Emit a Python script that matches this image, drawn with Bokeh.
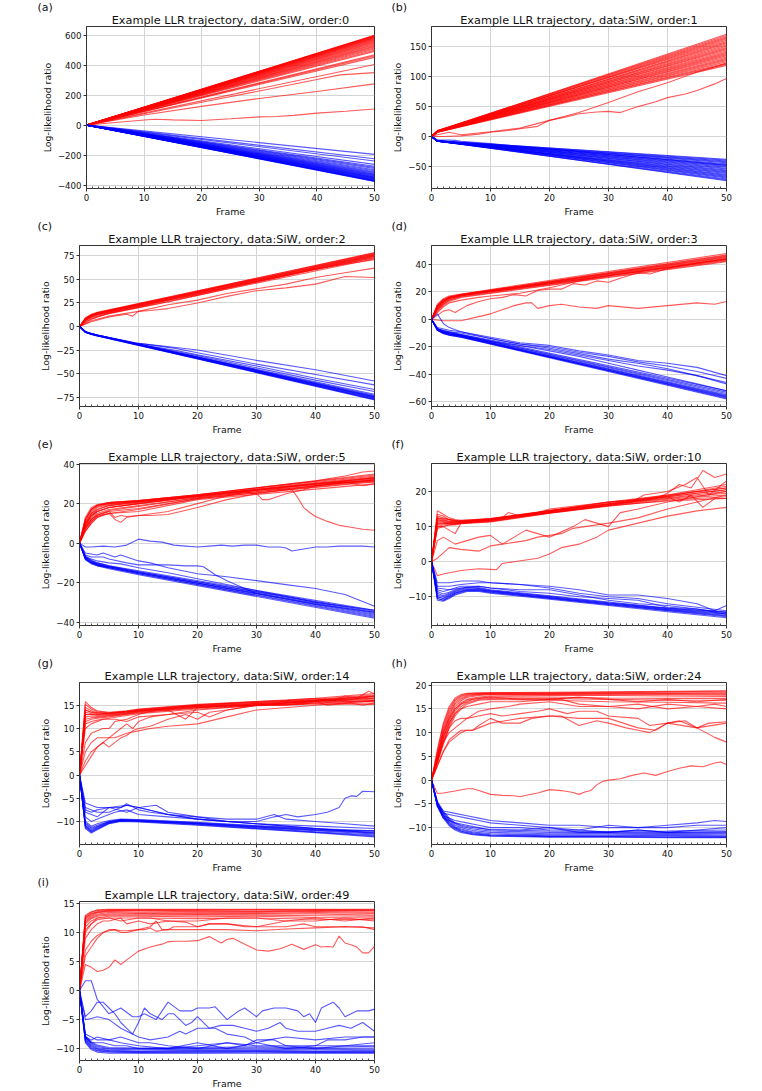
from bokeh.plotting import figure
from bokeh.layouts import column, row
from bokeh.models import FixedTicker, Range1d, Title
from bokeh.embed import file_html
from bokeh.resources import INLINE

FRAME_TICKS = [0, 10, 20, 30, 40, 50]
FRAME_MINOR = list(range(0, 51))
TAGS = ["(a)", "(b)", "(c)", "(d)", "(e)", "(f)", "(g)", "(h)", "(i)"]
ORDERS = [0, 1, 2, 3, 5, 10, 14, 24, 49]

# ---------------- (a) order 0
A_YTICKS = [-400, -200, 0, 200, 400, 600]
A_YRANGE = (-423, 658)
A_RED_FR = [0, 50]
A_RED = [[0, 600], [0, 598], [0, 596], [0, 594], [0, 591], [0, 588], [0, 585], [0, 582], [0, 578],
         [0, 574], [0, 570], [0, 566], [0, 561], [0, 556], [0, 551], [0, 546], [0, 540], [0, 534],
         [0, 528], [0, 522], [0, 515], [0, 508], [0, 500], [0, 492], [0, 470], [0, 462], [0, 452], [0, 405]]
A_RED_OUT = [
    ([0, 10, 20, 30, 40, 44, 50], [0, 76, 152, 228, 304, 335, 350]),
    ([0, 10, 20, 30, 40, 50], [0, 67, 125, 178, 224, 275]),
    ([0, 5, 10, 12, 15, 20, 25, 30, 33, 36, 40, 45, 50], [0, 17, 34, 39, 35, 31, 42, 55, 57, 65, 80, 92, 107]),
]
A_BLUE_FR = [0, 50]
A_BLUE = [[0, -376], [0, -374], [0, -372], [0, -370], [0, -367], [0, -364], [0, -361], [0, -358],
          [0, -355], [0, -352], [0, -349], [0, -346], [0, -342], [0, -338], [0, -334], [0, -330],
          [0, -326], [0, -321], [0, -316], [0, -311], [0, -305], [0, -298], [0, -290], [0, -282],
          [0, -275], [0, -262], [0, -240], [0, -224], [0, -195]]
A_BLUE_OUT = []

# ---------------- (b) order 1
B_YTICKS = [-50, 0, 50, 100, 150]
B_YRANGE = (-87, 184)
B_RED_FR = [0, 1, 50]
B_RED = [[0, 9, 171], [0, 9, 169], [0, 10, 167], [0, 9, 165], [0, 8, 163], [0, 9, 161], [0, 10, 159],
         [0, 8, 157], [0, 9, 155], [0, 9, 153], [0, 8, 151], [0, 9, 149], [0, 8, 147], [0, 9, 145],
         [0, 8, 143], [0, 9, 141], [0, 8, 139], [0, 8, 137], [0, 7, 135], [0, 9, 133], [0, 8, 131],
         [0, 8, 129], [0, 7, 127], [0, 8, 125], [0, 7, 123], [0, 8, 121], [0, 7, 119]]
B_RED_OUT = [
    ([0, 2, 5, 8, 10, 13, 15, 18, 20, 23, 25, 28, 30, 32, 35, 38, 40, 43, 45, 48, 50],
     [0, 0, 1, 4, 7, 10, 13, 17, 27, 33, 38, 41, 42, 40, 50, 58, 65, 71, 77, 88, 97]),
    ([0, 1, 3, 5, 10, 15, 20, 25, 30, 35, 40, 45, 50], [0, 3, 7, 3, 8, 14, 27, 40, 57, 75, 90, 108, 122]),
]
B_BLUE_FR = [0, 1, 50]
B_BLUE = [[0, -7, -38], [0, -7, -39.5], [0, -8, -41], [0, -7, -42.5], [0, -7, -44], [0, -8, -45.5],
          [0, -7, -47], [0, -8, -48.5], [0, -7, -50], [0, -8, -51.5], [0, -7, -53], [0, -8, -54.5],
          [0, -8, -56], [0, -7, -57.5], [0, -8, -59], [0, -8, -60.5], [0, -8, -62], [0, -8, -63.5],
          [0, -7, -65], [0, -8, -66.5], [0, -8, -68], [0, -7, -69.5], [0, -8, -71], [0, -8, -72.5], [0, -7, -74]]
B_BLUE_OUT = [([0, 1, 3, 4, 5, 10, 20, 30, 40, 50], [0, -6, -6, -6.5, -8, -12, -21, -30, -39, -48])]

# ---------------- (c) order 2
C_YTICKS = [-75, -50, -25, 0, 25, 50, 75]
C_YRANGE = (-85, 86)
C_RED_FR = [0, 1, 2, 3, 50]
C_RED = [[0, 8, 12, 14.5, 78.5], [0, 9, 13, 15, 78], [0, 8, 12, 14, 77.5], [0, 7, 11, 13.5, 77],
         [0, 8, 12, 14, 76.5], [0, 9, 12.5, 14.5, 76], [0, 7, 11, 13, 75.5], [0, 8, 11.5, 13.5, 75],
         [0, 7, 10, 12.5, 74.5], [0, 6, 10, 12, 74], [0, 7, 11, 13, 73], [0, 6, 9, 11, 72]]
C_RED_OUT = [
    ([0, 2, 5, 8, 9, 10, 12, 15, 20, 25, 30, 35, 40, 45, 50], [0, 5, 10, 13, 11, 16, 17, 19, 25, 32, 38, 41, 45, 53, 52]),
    ([0, 2, 5, 10, 15, 20, 25, 30, 35, 40, 45, 50], [0, 6, 11, 16, 23, 28, 35, 40, 45, 52, 57, 62]),
    ([0, 2, 5, 10, 15, 20, 25, 30, 35, 40, 45, 50], [0, 8, 14, 20, 26, 33, 40, 47, 54, 61, 66, 71]),
    ([0, 1, 3, 5, 10, 15, 20, 25, 30, 35, 40, 45, 50], [0, 5, 10, 14, 21, 28, 34, 41, 48, 55, 61, 67, 73]),
]
C_BLUE_FR = [0, 1, 2, 3, 50]
C_BLUE = [[0, -6, -8.5, -10, -78], [0, -6, -8, -9.5, -77.5], [0, -5.5, -8, -9.5, -77], [0, -6, -8.5, -10, -76.5],
          [0, -6, -8, -9.5, -76], [0, -5.5, -7.5, -9, -75.5], [0, -6, -8, -9.5, -75], [0, -5, -7.5, -9, -74.5],
          [0, -6, -8, -9.5, -74], [0, -5.5, -8, -9.5, -73], [0, -6, -8, -9.5, -72]]
C_BLUE_OUT = [
    ([0, 1, 3, 10, 16, 20, 30, 40, 50], [0, -6, -9, -18, -22, -25, -36, -46, -58]),
    ([0, 1, 3, 10, 16, 20, 30, 40, 50], [0, -6, -9, -18, -23, -28, -40, -51, -62]),
    ([0, 1, 3, 10, 16, 20, 30, 40, 50], [0, -6, -9, -19, -25, -30, -42, -55, -67]),
    ([0, 1, 3, 10, 16, 20, 30, 40, 50], [0, -6, -9.5, -19, -26, -31, -44, -57, -69]),
]

# ---------------- (d) order 3
D_YTICKS = [-60, -40, -20, 0, 20, 40]
D_YRANGE = (-63.5, 53.8)
D_RED_FR = [0, 1, 2, 3, 5, 50]
D_RED = [[0, 11, 15, 17, 18.5, 48], [0, 10, 14, 16.5, 18, 47], [0, 10, 14.5, 16, 18, 46.5], [0, 9, 13, 16, 17.5, 46],
         [0, 10, 14, 16, 18, 45.5], [0, 8, 12, 15, 17.5, 45], [0, 9, 13, 15.5, 17.5, 44.5], [0, 8, 12, 15, 17, 44],
         [0, 7, 11, 14, 17, 43.5], [0, 9, 13, 15.5, 17.5, 43], [0, 7, 11, 14, 16.5, 42.5], [0, 6, 10, 13, 16, 42]]
D_RED_OUT = [
    ([0, 2, 5, 8, 10, 12, 14, 16, 17, 18, 20, 22, 25, 28, 30, 35, 40, 45, 48, 50],
     [0, -1, -1, 2, 4, 7, 10, 12, 12, 8, 10, 11, 9, 8, 10, 8, 10, 12, 11, 13]),
    ([0, 2, 3, 4, 6, 8, 10, 12, 14, 16, 18, 20, 22, 24, 26, 28, 30, 32, 35, 37, 40, 45, 50],
     [0, 6, 7, 5, 10, 13, 15, 16, 18, 17, 21, 22, 22, 26, 25, 28, 27, 30, 34, 33, 37, 41, 44]),
    ([0, 1, 2, 3, 5, 8, 10, 15, 20, 25, 30, 35, 40, 45, 50], [0, 5, 9, 12, 14, 16, 17, 19, 23, 28, 32, 35, 38, 41, 44]),
]
D_BLUE_FR = [0, 1, 2, 3, 5, 50]
D_BLUE = [[0, -8, -10, -11.5, -13, -58], [0, -8, -10, -11, -12.5, -57.5], [0, -7.5, -10, -11, -12.5, -57],
          [0, -8, -10.5, -11.5, -13, -56.5], [0, -7, -9.5, -10.5, -12, -56], [0, -8, -10, -11, -12.5, -55.5],
          [0, -7.5, -9.5, -10.5, -12, -55], [0, -7, -9, -10, -11.5, -54], [0, -7, -9, -10, -11.5, -53],
          [0, -6.5, -8.5, -9.5, -11, -52]]
D_BLUE_OUT = [
    ([0, 1, 2, 3, 5, 10, 15, 20, 25, 30, 35, 40, 45, 50], [0, 4, -3, -6, -9, -14, -18, -21, -25, -29, -32, -36, -41, -46]),
    ([0, 1, 3, 5, 10, 15, 20, 25, 30, 35, 40, 45, 50], [0, -6, -8, -9, -13, -17, -19, -23, -26, -30, -32, -35, -41]),
    ([0, 1, 3, 5, 10, 15, 20, 25, 30, 35, 40, 45, 50], [0, -7, -9, -10, -14, -18, -20, -24, -27, -31, -34, -38, -43]),
    ([0, 1, 3, 5, 10, 15, 20, 25, 30, 35, 40, 45, 50], [0, -7, -9, -11, -15, -19, -22, -26, -30, -34, -37, -41, -47]),
    ([0, 1, 3, 5, 10, 15, 20, 25, 30, 35, 40, 45, 50], [0, -8, -10, -12, -16, -19, -23, -27, -32, -37, -42, -47, -52]),
]

# ---------------- (e) order 5
E_YTICKS = [-40, -20, 0, 20, 40]
E_YRANGE = (-41.7, 40.3)
E_RED_FR = [0, 1, 2, 3, 5, 10, 20, 50]
E_RED = [[0, 13, 18, 19.5, 20.5, 21.5, 24.5, 35], [0, 12, 17, 19, 20.5, 21.5, 24.5, 34.5],
         [0, 12, 17, 19, 20, 21, 24, 34], [0, 11, 16, 18.5, 20, 21, 24, 33.5], [0, 10, 15, 18, 19.5, 21, 24, 33],
         [0, 9, 14, 17, 19, 20.5, 23.5, 33], [0, 9, 13, 16, 18, 20, 23.5, 32.5], [0, 8, 12, 15, 17, 19, 23, 32],
         [0, 7, 11, 14, 16.5, 18.5, 23, 32], [0, 6, 10, 13, 15, 17, 22.5, 31.5], [0, 8, 12, 14.5, 16, 17.5, 22.5, 31],
         [0, 7, 11, 13.5, 15, 16, 22, 30]]
E_RED_OUT = [
    ([0, 1, 2, 3, 5, 10, 20, 30, 34, 36, 37, 38, 39, 40, 42, 44, 46, 48, 50],
     [0, 10, 15, 17, 19, 21, 24, 27, 27.5, 27, 23, 18, 15.5, 13.5, 11, 9, 8, 7, 6.5]),
    ([0, 1, 2, 3, 4, 5, 6, 7, 8, 9, 10, 12, 15, 20, 25, 30, 40, 50],
     [0, 6, 10, 13, 14.5, 15, 12, 10.5, 13, 13.5, 14, 14, 14.5, 18, 22, 25, 29, 32]),
    ([0, 1, 2, 3, 5, 6, 7, 8, 10, 15, 20, 25, 30, 40, 50], [0, 8, 12, 14, 16, 13, 14, 13.5, 14, 16, 20, 24, 27, 30, 33]),
    ([0, 1, 2, 3, 5, 10, 20, 25, 28, 30, 31, 32, 33, 35, 38, 40, 45, 50],
     [0, 9, 14, 16, 18, 20, 23.5, 25, 26, 25, 22, 22, 23, 25, 27, 29, 31, 31]),
    ([0, 1, 2, 3, 5, 10, 20, 30, 40, 45, 48, 50], [0, 12, 17, 19, 20.5, 21.5, 24.5, 28, 31.5, 34, 36, 36.5]),
    ([0, 1, 2, 3, 5, 10, 20, 30, 40, 45, 48, 50], [0, 10, 14, 16, 18, 20, 24, 27, 30, 31, 29, 30]),
]
E_BLUE_FR = [0, 1, 2, 3, 5, 10, 50]
E_BLUE = [[0, -8.5, -10.5, -11.5, -13, -16, -38], [0, -8, -10, -11.5, -12.5, -15.5, -37.5],
          [0, -8, -10, -11, -12.5, -15.5, -37], [0, -7.5, -9.5, -11, -12.5, -15, -36.5],
          [0, -8, -10, -11, -12, -15, -36], [0, -7, -9, -10.5, -12, -15, -35.5],
          [0, -7.5, -9.5, -10.5, -12, -14.5, -35], [0, -7, -9, -10, -11.5, -14.5, -34.5],
          [0, -6.5, -8.5, -10, -11.5, -14, -34]]
E_BLUE_OUT = [
    ([0, 1, 2, 4, 6, 8, 10, 12, 14, 16, 18, 20, 22, 24, 26, 28, 30, 32, 34, 35, 36, 38, 40, 42, 44, 46, 48, 50],
     [0, -2, -2, -1.5, -2, -1, 2, 1, 0.5, -1, -1.5, -2, -1.5, -1, -1.5, -1, -1, -2, -2, -2.5, -4, -3, -2, -2, -1.5, -1.5, -1.5, -2]),
    ([0, 1, 3, 4, 5, 6, 7, 8, 10, 12, 15, 20, 25, 30, 35, 40, 45, 50],
     [0, -5, -6, -5, -6, -7, -6, -7, -9, -10, -12.5, -15.5, -17, -19, -21, -23, -26, -32]),
    ([0, 1, 2, 4, 5, 8, 10, 12, 15, 18, 20, 21, 23, 25, 28, 30, 40, 50],
     [0, -6, -7, -7, -8, -10, -11, -11, -11, -11.5, -11.5, -12, -16, -19, -23, -25.5, -31, -35]),
    ([0, 1, 3, 5, 7, 10, 15, 20, 30, 40, 50], [0, -7, -9, -10, -10.5, -12.5, -15, -18, -24, -30, -34]),
]

# ---------------- (f) order 10
F_YTICKS = [-10, 0, 10, 20]
F_YRANGE = (-18.2, 28.0)
F_RED_FR = [0, 1, 2, 3, 4, 5, 10, 20, 30, 40, 50]
F_RED = [[0, 14.5, 13.5, 12.5, 12, 11.8, 12.3, 14.6, 16.8, 18.8, 21],
         [0, 13.5, 13, 12, 11.8, 11.7, 12.2, 14.5, 16.5, 18.5, 20.5],
         [0, 13, 12.5, 12, 11.5, 11.5, 12, 14.3, 16.4, 18.2, 20],
         [0, 12.5, 12, 11.5, 11.3, 11.3, 12, 14.2, 16.2, 18, 19.5],
         [0, 12, 11.5, 11.2, 11, 11.2, 11.8, 14, 16, 17.8, 19],
         [0, 11.5, 11.3, 11, 11, 11, 11.7, 14, 16, 18.5, 20.5],
         [0, 11, 11, 10.8, 10.8, 11, 11.5, 13.8, 15.8, 17.5, 18.5],
         [0, 10.5, 10.8, 10.8, 10.8, 11, 11.8, 14.2, 16.5, 19, 22],
         [0, 10, 10.5, 10.5, 10.7, 11, 11.5, 14, 16.3, 18.7, 21.5],
         [0, 9.5, 10, 10.5, 10.5, 10.8, 11.3, 13.8, 16, 17.3, 18]]
F_RED_OUT = [
    ([0, 1, 2, 5, 8, 10, 11, 12, 14, 16, 18, 20, 22, 25, 28, 30, 35, 40, 45, 50],
     [0, -4, -3.5, -2.5, -2, -2.2, -2.3, -0.5, 0, 0.5, 1, 2.2, 4, 5, 7, 9, 11, 13, 14.5, 15.5]),
    ([0, 1, 3, 5, 8, 10, 12, 14, 16, 18, 20, 22, 24, 26, 28, 30, 35, 40, 45, 50],
     [0, 1, 4, 3.5, 3, 4.5, 5, 5.5, 6, 7, 7.5, 8, 9.5, 10, 10.5, 11, 12.5, 15, 17, 19]),
    ([0, 1, 2, 4, 6, 8, 10, 12, 14, 16, 18, 20, 22, 24, 26, 28, 30, 32, 35, 40, 50],
     [0, 6, 7, 5, 6, 7, 7.5, 5, 7, 9, 8, 7, 8.5, 10, 12, 11, 10, 14, 15, 17, 20]),
    ([0, 1, 2, 3, 4, 5, 8, 10, 12, 13, 15, 18, 20, 25, 30, 35, 40, 45, 50],
     [0, 10, 10, 9, 8, 11, 12, 12, 12.5, 14, 13, 14, 15, 16, 17, 18, 19, 20, 21]),
    ([0, 1, 3, 5, 10, 20, 30, 35, 38, 40, 42, 44, 46, 48, 50],
     [0, 12, 11.5, 11.5, 12, 14.5, 17, 17.5, 18, 19.5, 22, 21, 26, 24, 25]),
    ([0, 1, 3, 5, 10, 20, 30, 34, 36, 40, 43, 45, 47, 50],
     [0, 11, 11, 11.5, 12, 14.5, 16.5, 17, 19, 20, 22, 24, 19, 23]),
    ([0, 1, 3, 5, 10, 20, 30, 40, 42, 44, 46, 48, 50],
     [0, 12.5, 12, 11.5, 12.3, 14.5, 17, 18.5, 17, 19, 15.5, 18, 18]),
]
F_BLUE_FR = [0, 1, 2, 3, 4, 5, 6, 8, 10, 20, 30, 40, 50]
F_BLUE = [[0, -11, -11.3, -10.5, -9.5, -9, -8.5, -8.5, -9, -10.7, -12.5, -14.3, -16],
          [0, -10.5, -11, -10.2, -9.3, -8.8, -8.3, -8.3, -8.8, -10.5, -12.3, -14, -15.7],
          [0, -10.5, -11, -10, -9, -8.5, -8.2, -8.2, -8.7, -10.4, -12.2, -13.9, -15.5],
          [0, -10, -10.5, -9.8, -9, -8.5, -8, -8, -8.5, -10.3, -12, -13.7, -15.3],
          [0, -10, -10.5, -9.5, -8.7, -8.3, -8, -8, -8.4, -10.2, -12, -13.6, -15],
          [0, -9.5, -10, -9.3, -8.5, -8, -7.8, -7.8, -8.3, -10, -11.8, -13.4, -14.8],
          [0, -9, -9.7, -9, -8.3, -7.8, -7.5, -7.6, -8.2, -9.9, -11.7, -13.3, -14.5],
          [0, -8.5, -9.2, -8.7, -8, -7.6, -7.3, -7.4, -8, -9.7, -11.5, -13.2, -14.3]]
F_BLUE_OUT = [
    ([0, 1, 3, 5, 8, 10, 15, 20, 25, 30, 35, 40, 45, 48, 50],
     [0, -6, -6, -5.5, -5.5, -6, -6.5, -7, -8, -9.5, -9.5, -10.5, -12, -14, -12.5]),
    ([0, 1, 3, 5, 8, 10, 15, 20, 25, 30, 35, 40, 45, 50],
     [0, -7, -7, -6.5, -6, -6, -6.5, -7.5, -9, -10, -10.5, -12, -13, -14]),
    ([0, 1, 3, 5, 8, 10, 15, 20, 25, 30, 35, 40, 45, 50],
     [0, -7.5, -8, -7, -7, -7.5, -8, -8, -9.5, -11, -12, -12.5, -13.5, -14.5]),
    ([0, 1, 2, 3, 5, 8, 10, 15, 20, 25, 30, 35, 40, 45, 50],
     [0, -8, -8.5, -8, -7.5, -7, -7.5, -8.5, -9, -10, -10.5, -11, -13, -13.5, -15]),
]

# ---------------- (g) order 14
G_YTICKS = [-15, -10, -5, 0, 5, 10, 15]
G_YRANGE = (-14.95, 19.9)
G_RED_FR = [0, 1, 2, 3, 5, 8, 10, 20, 30, 40, 50]
G_RED = [[0, 15.8, 14.5, 13.8, 13.5, 13.8, 14.2, 15.2, 15.8, 16.5, 17.5],
         [0, 15.2, 14.2, 13.6, 13.4, 13.7, 14.1, 15.1, 15.7, 16.3, 17.2],
         [0, 14.5, 13.8, 13.4, 13.3, 13.6, 14, 15, 15.6, 16.2, 17],
         [0, 14, 13.5, 13.2, 13.2, 13.5, 13.9, 14.9, 15.5, 16.1, 16.8],
         [0, 13.5, 13.2, 13, 13, 13.4, 13.8, 14.8, 15.4, 16, 16.5],
         [0, 13, 13, 12.8, 12.9, 13.3, 13.7, 14.7, 15.3, 15.9, 16.3],
         [0, 12.5, 12.7, 12.6, 12.8, 13.2, 13.6, 14.6, 15.2, 15.8, 16],
         [0, 12, 12.3, 12.4, 12.7, 13.1, 13.5, 14.5, 15.1, 15.7, 15.8],
         [0, 11.5, 12, 12.2, 12.5, 13, 13.4, 14.4, 15, 15.5, 15.5],
         [0, 11, 11.5, 11.8, 12.2, 12.8, 13.2, 14.2, 14.9, 15.3, 15.2]]
G_RED_OUT = [
    ([0, 1, 2, 3, 4, 5, 6, 8, 10, 12, 15, 20, 25, 30, 40, 50], [0, 3, 5, 6, 7, 8, 8, 9, 9.5, 10, 10.5, 11, 12.5, 14, 15, 16]),
    ([0, 1, 2, 3, 4, 5, 7, 8, 9, 10, 12, 15, 18, 20, 22, 25, 30, 40, 50],
     [0, 2, 4, 6, 7, 6, 8, 8.5, 9.5, 10, 10.5, 12, 13, 12, 13.5, 14, 15, 16, 17]),
    ([0, 1, 2, 3, 5, 7, 8, 9, 10, 12, 15, 20, 25, 30, 40, 50], [0, 5, 7, 8, 8, 10, 11, 10, 11.5, 12.5, 13, 14, 14.5, 15, 15.5, 16]),
    ([0, 1, 2, 3, 4, 5, 6, 8, 10, 13, 15, 18, 20, 25, 30, 35, 40, 45, 50],
     [0, 7, 9, 9.5, 10, 10, 11.5, 12, 13, 14, 14, 12, 14.5, 15, 15, 15, 16, 16, 17]),
    ([0, 1, 2, 4, 6, 8, 10, 15, 20, 22, 25, 30, 40, 50], [0, 10, 11, 12, 12, 11.5, 12.5, 13, 13.5, 12.5, 14, 15, 16, 16.5]),
    ([0, 1, 2, 5, 10, 20, 30, 35, 40, 43, 45, 47, 49, 50], [0, 14, 13.5, 13.3, 14, 15, 15.8, 16, 16.5, 16, 17, 16.5, 18, 17.5]),
    ([0, 1, 3, 5, 10, 20, 28, 30, 33, 38, 40, 42, 46, 48, 50],
     [0, 13, 13, 13.2, 13.8, 14.8, 15, 15.5, 15, 15.2, 15.8, 15, 15.5, 15, 15.5]),
]
G_BLUE_FR = [0, 1, 2, 3, 5, 7, 10, 20, 30, 40, 50]
G_BLUE = [[0, -11.5, -12.5, -11.8, -10.5, -10, -10.1, -10.8, -11.6, -12.4, -13.3],
          [0, -11.3, -12.3, -11.6, -10.4, -9.9, -10, -10.7, -11.5, -12.3, -13.1],
          [0, -11, -12.2, -11.5, -10.3, -9.8, -9.9, -10.6, -11.4, -12.2, -12.9],
          [0, -11, -12, -11.3, -10.2, -9.8, -9.9, -10.5, -11.3, -12, -12.7],
          [0, -10.8, -11.8, -11.2, -10.1, -9.7, -9.8, -10.5, -11.2, -11.9, -12.5],
          [0, -10.5, -11.5, -11, -10, -9.7, -9.8, -10.4, -11.1, -11.8, -12.3],
          [0, -10.3, -11.3, -10.8, -10, -9.6, -9.7, -10.3, -11, -11.7, -12.1],
          [0, -10, -11, -10.5, -9.8, -9.5, -9.6, -10.2, -10.9, -11.5, -12]]
G_BLUE_OUT = [
    ([0, 1, 3, 5, 8, 10, 15, 20, 25, 30, 33, 35, 37, 40, 42, 44, 45, 46, 47, 48, 50],
     [0, -7, -8, -8, -6.5, -7, -8.5, -9.5, -10, -10, -9, -8.5, -9, -8.5, -8, -7, -5, -4.5, -4.6, -3.5, -3.6]),
    ([0, 1, 3, 5, 8, 10, 13, 15, 20, 25, 30, 33, 35, 40, 45, 50],
     [0, -6, -7, -7, -6.5, -7, -6.5, -8, -9, -9.5, -9.5, -8.5, -9.5, -10, -10.5, -11]),
    ([0, 1, 3, 5, 7, 8, 10, 12, 15, 20, 25, 30, 35, 40, 45, 50],
     [0, -8, -9, -7, -7, -6.2, -7.5, -8, -8.5, -9, -10, -10.5, -11, -11.5, -12, -12]),
    ([0, 1, 2, 4, 6, 8, 10, 15, 20, 25, 30, 35, 40, 45, 50],
     [0, -9, -10, -9, -8, -7.5, -8.5, -9, -9.5, -10, -10.5, -11, -11.5, -12, -12.5]),
    ([0, 1, 2, 3, 5, 8, 10, 15, 20, 30, 40, 50], [0, -7.5, -8, -7.5, -7, -8, -7, -8.5, -9.5, -10.5, -11, -11.5]),
]

# ---------------- (h) order 24
H_YTICKS = [-10, -5, 0, 5, 10, 15, 20]
H_YRANGE = (-13.55, 20.55)
H_RED_FR = [0, 1, 2, 3, 4, 5, 6, 8, 10, 20, 30, 40, 50]
H_RED = [[0, 6.5, 12, 15.5, 17.3, 18, 18.3, 18.4, 18.4, 18.5, 18.6, 18.7, 18.8],
         [0, 6, 11.5, 15, 17, 17.8, 18.2, 18.3, 18.4, 18.4, 18.5, 18.6, 18.7],
         [0, 5.5, 11, 14.5, 16.7, 17.6, 18, 18.2, 18.3, 18.3, 18.4, 18.5, 18.5],
         [0, 5, 10.5, 14, 16.3, 17.3, 17.8, 18.1, 18.2, 18.2, 18.3, 18.3, 18.3],
         [0, 5, 10, 13.5, 16, 17, 17.6, 18, 18.1, 18.1, 18.2, 18.2, 18.1],
         [0, 4.5, 9.5, 13, 15.5, 16.7, 17.4, 17.8, 18, 18, 18, 18, 17.9],
         [0, 4.5, 9, 12.5, 15, 16.3, 17, 17.5, 17.7, 17.8, 17.8, 17.7, 17.6],
         [0, 4, 8.5, 12, 14.5, 16, 16.8, 17.3, 17.5, 17.5, 17.3, 17.2, 17.2],
         [0, 4, 8, 11.5, 14, 15.5, 16.3, 17, 17.2, 17.2, 17, 16.8, 16.8],
         [0, 3.5, 7.5, 11, 13.5, 15, 16, 16.8, 17, 16.8, 16.5, 16.4, 16.2]]
H_RED_OUT = [
    ([0, 1, 2, 4, 6, 7, 8, 10, 12, 14, 15, 16, 18, 20, 22, 24, 25, 26, 27, 28, 29, 30, 32, 34, 36, 38, 40, 42, 44, 46, 48, 49, 50],
     [0, -2.8, -2.7, -2.3, -1.8, -1.8, -2.2, -3, -3.2, -3.3, -3.5, -3.2, -2.7, -2, -2.2, -2.6, -3, -2.5, -2.2, -1, -0.3, 0, 0.3, 1, 1.5, 1, 1.8, 2.5, 3, 2.8, 3.6, 3.8, 3.3]),
    ([0, 1, 2, 3, 4, 5, 6, 7, 8, 10, 15, 20, 25, 30, 35, 38, 40, 42, 45, 48, 50],
     [0, 3, 6, 8, 9, 10, 10.5, 10.5, 11, 12, 13, 13.5, 13, 13, 11, 10.5, 12, 12.5, 11, 9, 8]),
    ([0, 1, 2, 3, 4, 5, 7, 8, 10, 12, 15, 17, 20, 22, 25, 28, 30, 33, 35, 37, 40, 43, 45, 47, 50],
     [0, 3, 6, 8.5, 9.5, 10.5, 10.5, 11.5, 13, 12, 12, 13, 13.5, 13.5, 11.5, 12.5, 12, 11, 10.5, 10, 12, 12.5, 11, 12, 12.3]),
    ([0, 1, 2, 3, 4, 5, 6, 8, 10, 12, 15, 18, 20, 23, 25, 28, 30, 35, 37, 40, 45, 50],
     [0, 4, 8, 10, 11, 12, 13, 13.5, 14, 13.5, 14, 14.5, 15, 14, 14.5, 14.5, 13.5, 13, 11.5, 12, 11, 12]),
    ([0, 1, 2, 3, 4, 5, 6, 8, 10, 13, 15, 20, 25, 30, 35, 40, 45, 50],
     [0, 4, 8, 11, 12.5, 13, 13, 14.5, 15, 15.5, 16, 16.5, 15.5, 15.5, 15, 16, 15.5, 15]),
    ([0, 1, 2, 3, 4, 5, 6, 8, 10, 15, 20, 22, 25, 30, 35, 40, 45, 48, 50],
     [0, 5, 9, 12, 14, 15, 15.5, 16, 16.5, 16.5, 17, 17, 16, 15.5, 16, 15, 15.5, 16, 15.5]),
    ([0, 1, 2, 3, 4, 5, 7, 10, 15, 20, 25, 30, 35, 40, 45, 50],
     [0, 5, 10, 13, 15, 16, 17, 17.5, 17, 17, 17.5, 17, 16.5, 17, 16.5, 17]),
]
H_BLUE_FR = [0, 1, 2, 3, 4, 5, 7, 10, 20, 30, 40, 50]
H_BLUE = [[0, -5.5, -8, -9.6, -10.5, -11, -11.5, -11.8, -12, -12, -12.1, -12.1],
          [0, -5.3, -7.8, -9.4, -10.3, -10.8, -11.4, -11.7, -11.9, -11.9, -12, -12],
          [0, -5.2, -7.6, -9.2, -10.1, -10.7, -11.3, -11.6, -11.8, -11.8, -11.8, -11.9],
          [0, -5, -7.5, -9, -10, -10.5, -11.1, -11.5, -11.7, -11.7, -11.6, -11.7],
          [0, -5, -7.3, -8.8, -9.8, -10.3, -10.9, -11.3, -11.5, -11.5, -11.4, -11.5],
          [0, -4.8, -7, -8.5, -9.5, -10, -10.6, -11, -11.3, -11.2, -11.2, -11.2],
          [0, -4.7, -6.8, -8.3, -9.2, -9.7, -10.3, -10.7, -11, -11, -11, -10.8],
          [0, -4.5, -6.5, -8, -9, -9.5, -10, -10.4, -10.7, -10.8, -10.7, -10.5]]
H_BLUE_OUT = [
    ([0, 1, 2, 4, 6, 8, 10, 15, 20, 25, 30, 35, 40, 45, 48, 50],
     [0, -5, -6.5, -7, -7.5, -8, -8.5, -9, -9.5, -9.5, -10, -10, -9.5, -9, -8.5, -8.7]),
    ([0, 1, 2, 4, 6, 8, 10, 15, 20, 25, 30, 35, 40, 45, 50],
     [0, -5, -7, -7.5, -8, -8.5, -9, -9.5, -10, -10.5, -9.5, -10, -10, -9.5, -9.5]),
    ([0, 1, 2, 4, 6, 8, 10, 15, 20, 25, 30, 35, 40, 45, 50],
     [0, -5.5, -7.5, -8.5, -9, -9.5, -10, -10, -10.5, -10.5, -11, -10.5, -11, -10.5, -10]),
    ([0, 1, 2, 4, 6, 8, 10, 15, 20, 25, 30, 35, 40, 45, 50],
     [0, -5.5, -8, -9, -9.5, -10, -10.5, -10.5, -10, -11, -11, -10.5, -11, -11, -11]),
]

# ---------------- (i) order 49
I_YTICKS = [-10, -5, 0, 5, 10, 15]
I_YRANGE = (-12.05, 15.35)
I_RED_FR = [0, 1, 2, 3, 5, 10, 20, 30, 40, 50]
I_RED = [[0, 13, 13.6, 13.9, 14, 14, 14, 14, 14, 14],
         [0, 12.8, 13.5, 13.8, 13.9, 13.9, 13.9, 13.9, 13.9, 13.9],
         [0, 12.6, 13.3, 13.6, 13.8, 13.8, 13.8, 13.7, 13.8, 13.8],
         [0, 12.5, 13.2, 13.5, 13.7, 13.7, 13.6, 13.6, 13.7, 13.7],
         [0, 12.3, 13, 13.4, 13.6, 13.5, 13.5, 13.5, 13.6, 13.5],
         [0, 12, 12.8, 13.2, 13.4, 13.3, 13.3, 13.3, 13.4, 13.3],
         [0, 11.8, 12.6, 13, 13.2, 13.2, 13.1, 13.2, 13.2, 13],
         [0, 11.5, 12.4, 12.8, 13, 13, 13, 13, 12.9, 12.8],
         [0, 11, 12, 12.5, 12.8, 12.8, 12.7, 12.8, 12.6, 12.5],
         [0, 10.5, 11.5, 12.2, 12.5, 12.5, 12.4, 12.5, 12.3, 12.2]]
I_RED_OUT = [
    ([0, 1, 2, 3, 4, 5, 6, 7, 8, 10, 12, 14, 15, 16, 18, 20, 22, 24, 25, 26, 28, 30, 32, 34, 35, 36, 38, 40, 41, 42, 43, 44, 45, 46, 47, 48, 49, 50],
     [0, 4.5, 4, 3.3, 3.5, 4, 5.3, 4.5, 5.3, 6.8, 7.5, 8, 8.4, 8.5, 8.5, 8.6, 9.3, 8.2, 8.8, 9, 8, 7, 6.8, 7.2, 7.6, 8, 7.1, 7.9, 7.5, 7.6, 7.5, 9.4, 8.2, 7.9, 7.5, 6.5, 6.5, 7.6]),
    ([0, 1, 2, 3, 4, 5, 6, 7, 8, 10, 12, 13, 14, 15, 16, 18, 20, 22, 25, 28, 30, 33, 35, 38, 40, 43, 45, 48, 50],
     [0, 6, 7.5, 9, 10, 10.5, 10.5, 10, 10, 10.5, 11, 12, 10.5, 10.5, 11, 11, 11, 11.5, 11.5, 11, 11, 11, 11, 11.5, 11, 11, 11, 11, 10.5]),
    ([0, 1, 2, 3, 4, 5, 6, 7, 8, 10, 11, 12, 13, 14, 15, 16, 18, 20, 25, 30, 35, 40, 45, 50],
     [0, 7, 8.5, 9.5, 10, 10.3, 10.5, 10.3, 10.3, 10.5, 10.5, 10.8, 10.2, 10.4, 10.5, 10.5, 10.5, 10.5, 10.5, 10.3, 10.6, 10.8, 11, 10.8]),
    ([0, 1, 2, 3, 4, 5, 7, 8, 10, 12, 15, 18, 20, 22, 25, 30, 35, 40, 45, 50],
     [0, 9, 10.5, 11.5, 12, 12, 12.5, 11.5, 12, 11.5, 12, 11.8, 11, 11.5, 11.5, 11, 12, 12, 12.5, 12]),
    ([0, 1, 2, 3, 5, 7, 10, 12, 15, 20, 25, 30, 35, 40, 45, 50],
     [0, 10, 11.5, 12.5, 12.5, 12, 12.5, 12.5, 12, 12, 12.5, 12.5, 12, 12.5, 12, 12.5]),
]
I_BLUE_FR = [0, 1, 2, 3, 5, 10, 20, 30, 40, 50]
I_BLUE = [[0, -9, -10.2, -10.6, -10.8, -10.8, -10.8, -10.8, -10.8, -10.8],
          [0, -8.8, -10, -10.4, -10.6, -10.7, -10.7, -10.6, -10.7, -10.7],
          [0, -8.6, -9.8, -10.3, -10.5, -10.6, -10.5, -10.5, -10.6, -10.6],
          [0, -8.5, -9.6, -10.1, -10.4, -10.5, -10.4, -10.4, -10.5, -10.5],
          [0, -8.3, -9.4, -10, -10.3, -10.4, -10.3, -10.3, -10.4, -10.3],
          [0, -8.1, -9.2, -9.8, -10.1, -10.2, -10.1, -10.1, -10.2, -10.1],
          [0, -8, -9, -9.6, -10, -10, -10, -9.9, -10, -9.9],
          [0, -7.8, -8.8, -9.4, -9.8, -9.9, -9.8, -9.7, -9.8, -9.6]]
I_BLUE_OUT = [
    ([0, 1, 2, 3, 5, 7, 9, 10, 11, 13, 14, 15, 17, 19, 20, 22, 23, 25, 27, 28, 30, 31, 33, 35, 37, 38, 39, 40, 41, 42, 43, 44, 45, 47, 48, 49, 50],
     [0, 1.7, 1.7, -1.5, -4, -3, -4.5, -4.5, -4, -5, -3.5, -2, -3.5, -3.5, -3, -3, -2.8, -5, -3.5, -3, -4.5, -3.5, -3, -3, -3.5, -4.5, -4, -5.5, -3, -2.5, -2, -3, -4.5, -3.5, -3.5, -3.5, -3.2]),
    ([0, 1, 2, 3, 4, 5, 6, 7, 8, 9, 10, 11, 12, 13, 14, 15, 16, 17, 18, 19, 20, 22, 24, 26, 28, 30, 32, 34, 35, 37, 40, 42, 44, 46, 48, 50],
     [0, -4.5, -3.5, -2, -2, -3, -4, -5.5, -6.5, -7.5, -5.5, -3, -4, -4.5, -5, -4, -4, -5, -6, -5.5, -4.5, -6.5, -6, -6, -6.5, -7, -6.5, -5.5, -6.5, -7, -7, -6.5, -6, -6.5, -5.5, -7]),
    ([0, 1, 2, 3, 5, 7, 8, 10, 12, 15, 17, 18, 20, 23, 25, 28, 30, 32, 35, 40, 45, 50],
     [0, -5, -4.8, -4.5, -5, -6.5, -7, -8, -8.5, -8, -7, -7.5, -6.5, -6.5, -7.5, -8, -9, -8.5, -8, -8.5, -8, -8]),
    ([0, 1, 2, 3, 5, 7, 10, 12, 15, 20, 25, 28, 30, 33, 35, 38, 40, 42, 45, 48, 50],
     [0, -8, -8.5, -8, -8.5, -8, -9, -9, -9.5, -10, -9, -9.5, -8.5, -8.5, -9.5, -9.5, -9.5, -8.5, -8.5, -8, -8]),
    ([0, 1, 2, 3, 5, 7, 10, 15, 20, 25, 30, 35, 40, 45, 50],
     [0, -7.5, -8, -8.5, -8.5, -9, -9.5, -10, -9.5, -9, -9.5, -9.5, -10, -9.5, -9.5]),
    ([0, 1, 2, 4, 6, 8, 10, 15, 20, 25, 30, 35, 40, 45, 50],
     [0, -8, -9, -9, -9.5, -9.5, -10, -10, -9, -10, -9, -10, -9.5, -9.5, -9]),
]

PANELS = [
    (A_YTICKS, A_YRANGE, A_RED_FR, A_RED, A_RED_OUT, A_BLUE_FR, A_BLUE, A_BLUE_OUT),
    (B_YTICKS, B_YRANGE, B_RED_FR, B_RED, B_RED_OUT, B_BLUE_FR, B_BLUE, B_BLUE_OUT),
    (C_YTICKS, C_YRANGE, C_RED_FR, C_RED, C_RED_OUT, C_BLUE_FR, C_BLUE, C_BLUE_OUT),
    (D_YTICKS, D_YRANGE, D_RED_FR, D_RED, D_RED_OUT, D_BLUE_FR, D_BLUE, D_BLUE_OUT),
    (E_YTICKS, E_YRANGE, E_RED_FR, E_RED, E_RED_OUT, E_BLUE_FR, E_BLUE, E_BLUE_OUT),
    (F_YTICKS, F_YRANGE, F_RED_FR, F_RED, F_RED_OUT, F_BLUE_FR, F_BLUE, F_BLUE_OUT),
    (G_YTICKS, G_YRANGE, G_RED_FR, G_RED, G_RED_OUT, G_BLUE_FR, G_BLUE, G_BLUE_OUT),
    (H_YTICKS, H_YRANGE, H_RED_FR, H_RED, H_RED_OUT, H_BLUE_FR, H_BLUE, H_BLUE_OUT),
    (I_YTICKS, I_YRANGE, I_RED_FR, I_RED, I_RED_OUT, I_BLUE_FR, I_BLUE, I_BLUE_OUT),
]

FONT = "DejaVu Sans"
FIG_W = 381
BOTTOMS = [30, 29, 30, 30, 27]


def make_panel(idx):
    yticks, yrange, rfr, rb, ro, bfr, bb, bo = PANELS[idx]
    r = idx // 2
    left = (idx % 2 == 0)
    top = 24
    bottom = BOTTOMS[r]
    frame_h = 165
    H = top + frame_h + bottom
    if left:
        mbl = 86 if idx == 0 else 79
        mbr = 7
        tag_off = -49 if idx == 0 else -42
    else:
        mbl, mbr = 50, 36
        tag_off = -40
    p = figure(width=FIG_W, height=H, x_range=Range1d(0, 50), y_range=Range1d(*yrange),
               output_backend="svg", toolbar_location=None,
               min_border_left=mbl, min_border_right=mbr, min_border_top=top, min_border_bottom=bottom)
    main_title = Title(text="Example LLR trajectory, data:SiW, order:%d" % ORDERS[idx],
                       align="center", text_font=FONT, text_font_size="11.3px",
                       text_font_style="normal", text_color="#111111", standoff=0)
    tag_title = Title(text=TAGS[idx], align="left", offset=tag_off, text_font=FONT,
                      text_font_size="11px", text_font_style="normal", text_color="#111111",
                      standoff=-4)
    p.add_layout(main_title, "above")
    p.add_layout(tag_title, "above")
    p.background_fill_color = "white"
    p.border_fill_color = "white"
    p.outline_line_color = "#333333"
    p.outline_line_width = 1

    p.xaxis.ticker = FixedTicker(ticks=FRAME_TICKS, minor_ticks=FRAME_MINOR)
    p.yaxis.ticker = FixedTicker(ticks=yticks, minor_ticks=[])
    p.yaxis.major_label_overrides = {v: "\u2212" + str(abs(v)) for v in yticks if v < 0}
    p.xaxis.axis_label = "Frame"
    p.yaxis.axis_label = "Log-likelihood ratio"
    for ax in (p.xaxis[0], p.yaxis[0]):
        ax.axis_label_text_font = FONT
        ax.axis_label_text_font_size = "9.4px"
        ax.axis_label_text_font_style = "normal"
        ax.axis_label_text_color = "#111111"
        ax.axis_label_standoff = 2
        ax.major_label_text_font = FONT
        ax.major_label_text_font_size = "8.6px"
        ax.major_label_text_color = "#111111"
        ax.major_label_standoff = 2
        ax.axis_line_color = "#333333"
        ax.major_tick_line_color = "#333333"
        ax.major_tick_out = 3
        ax.major_tick_in = 0
        ax.minor_tick_line_color = "#555555"
        ax.minor_tick_in = 2
        ax.minor_tick_out = 0
    p.grid.grid_line_color = "#d4d4d4"
    p.grid.grid_line_width = 1

    rxs = [rfr] * len(rb) + [f for f, v in ro]
    rys = list(rb) + [v for f, v in ro]
    bxs = [bfr] * len(bb) + [f for f, v in bo]
    bys = list(bb) + [v for f, v in bo]
    p.multi_line(rxs, rys, line_color="red", line_alpha=0.65, line_width=1.1)
    p.multi_line(bxs, bys, line_color="blue", line_alpha=0.65, line_width=1.1)
    return p


figs = [make_panel(i) for i in range(9)]
layout = column(
    row(figs[0], figs[1]),
    row(figs[2], figs[3]),
    row(figs[4], figs[5]),
    row(figs[6], figs[7]),
    row(figs[8]),
)

open("out.html", "w").write(file_html(layout, INLINE))
